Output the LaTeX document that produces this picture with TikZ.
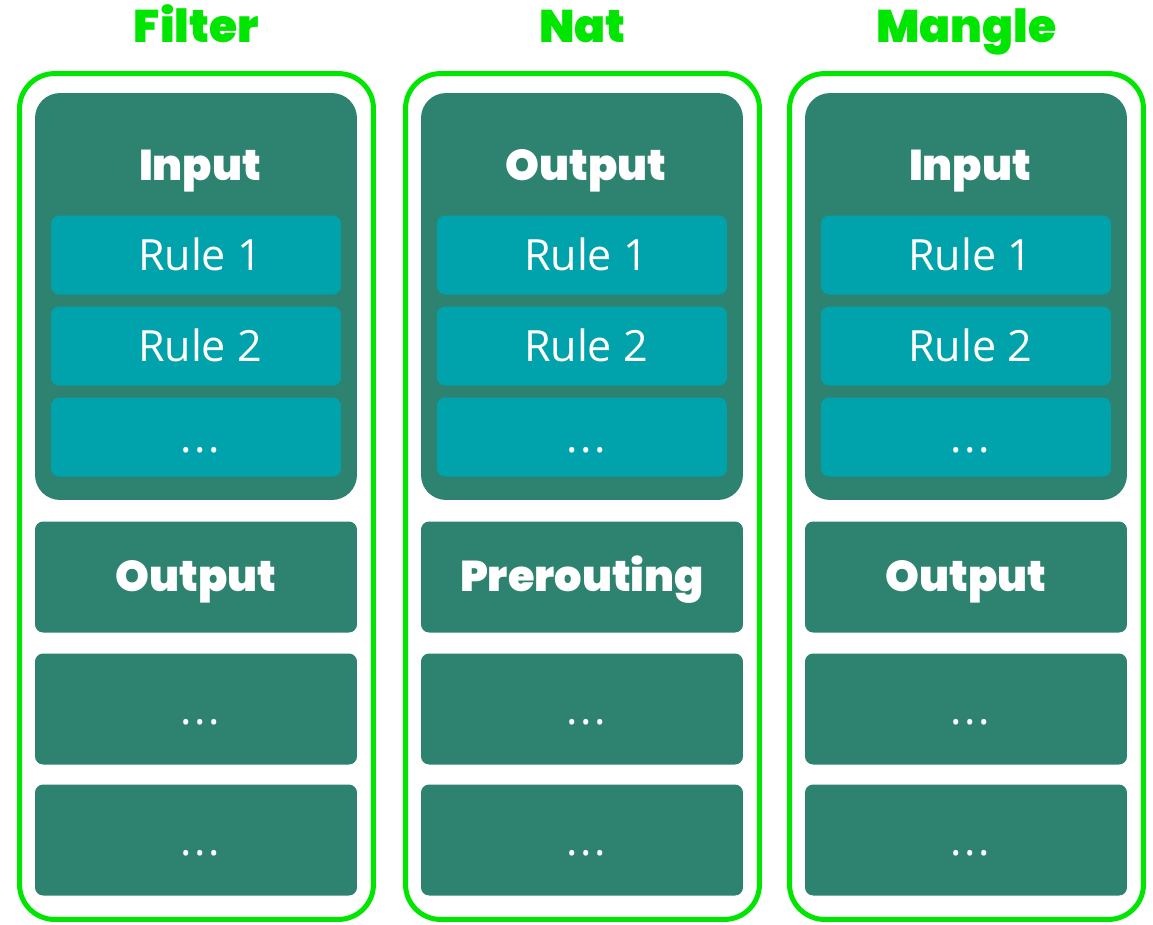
\documentclass[tikz,border=0pt]{standalone}
\usepackage{fontspec}
\usepackage{tikz}
\usetikzlibrary{positioning}
\newfontfamily\headfont{Poppins}[UprightFont=* Black]
\newfontfamily\rulefont{Open Sans}
\definecolor{tableGreen}{RGB}{0,230,0}
\definecolor{chainGreen}{RGB}{46,130,112}
\definecolor{ruleTeal}{RGB}{0,162,172}

\begin{document}
\begin{tikzpicture}[x=0.02cm, y=-0.02cm,
  tabletitle/.style={font=\headfont\fontsize{26}{30}\selectfont, text=tableGreen, anchor=base},
  tableframe/.style={draw=tableGreen, line width=0.1cm, rounded corners=0.7cm, minimum width=7.08cm, minimum height=16.92cm, inner sep=0pt},
  chainbox/.style={fill=chainGreen, rounded corners=0.5cm, minimum width=6.44cm, minimum height=8.14cm, inner sep=0pt},
  chaintitle/.style={font=\headfont\fontsize{24.5}{28}\selectfont, text=white, anchor=base},
  chainbar/.style={fill=chainGreen, rounded corners=0.16cm, minimum width=6.44cm, minimum height=2.22cm, inner sep=0pt,
    text=white, text height=0.56cm, text depth=0cm},
  rulebox/.style={fill=ruleTeal, rounded corners=0.16cm, minimum width=5.8cm, minimum height=1.58cm, inner sep=0pt,
    font=\rulefont\fontsize{24.5}{28}\selectfont, text=white, text height=0.6cm, text depth=0cm},
]
\useasboundingbox (0,0) rectangle (1153,924);
\newcommand{\moredots}{.\kern1.5pt.\kern1.5pt.}

% ===================================================================
% One column per table
% ===================================================================
\foreach \col/\tname/\first/\second in {0/Filter/Input/Output, 386/Nat/Output/Prerouting, 770/Mangle/Input/Output} {
  \begin{scope}[shift={(\col,0)}]
    \node[tabletitle] (title\tname) at (196.5,42) {\tname};
    \node[tableframe] (frame\tname) at (196.5,496.5) {};

    % Expanded chain with its rules
    \node[chainbox] (chain\tname) at (196,296.5) {};
    \node[chaintitle] (head\tname) at (200,180) {\first};
    \node[rulebox] (ruleA\tname) at (196,255) {\hspace*{0.16cm}Rule 1};
    \node[rulebox] (ruleB\tname) at (196,346) {\hspace*{0.16cm}Rule 2};
    \node[rulebox] (ruleC\tname) at (196,437) {\hspace*{0.16cm}\moredots};

    % Collapsed chains
    \node[chainbar, font=\headfont\fontsize{24.5}{28}\selectfont] (next\tname) at (196,577) {\second};
    \node[chainbar, font=\rulefont\fontsize{24.5}{28}\selectfont, text height=0.6cm] (moreA\tname) at (196,709) {\hspace*{0.16cm}\moredots};
    \node[chainbar, font=\rulefont\fontsize{24.5}{28}\selectfont, text height=0.6cm] (moreB\tname) at (196,840) {\hspace*{0.16cm}\moredots};
  \end{scope}
}

\end{tikzpicture}
\end{document}
